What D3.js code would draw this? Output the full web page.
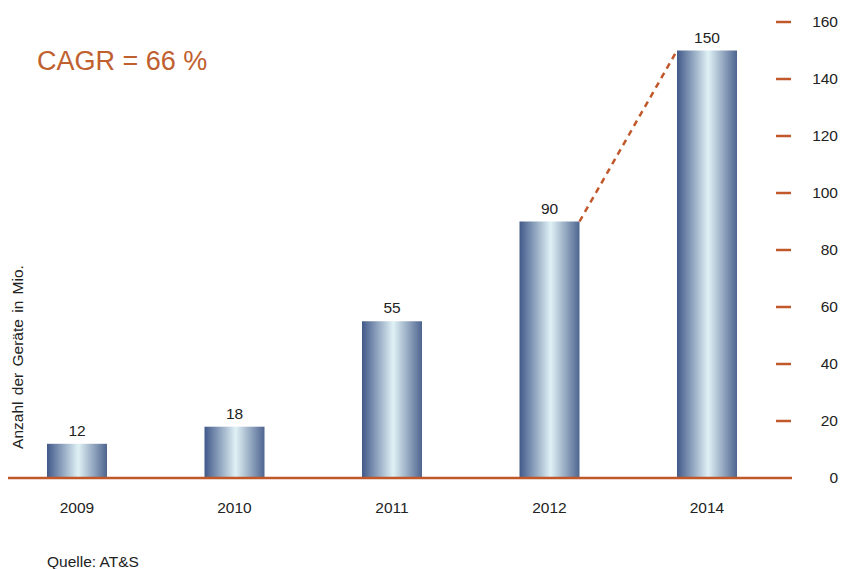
<!DOCTYPE html>
<html><head><meta charset="utf-8">
<script src="https://cdn.jsdelivr.net/npm/d3@7"></script>
<style>body{margin:0;background:#fff;font-family:Arial,"Liberation Sans",sans-serif}</style>
</head><body><svg id="c" width="841" height="569"></svg>
<script>
const categories = ["2009","2010","2011","2012","2014"];
const values = [12, 18, 55, 90, 150];
const yTicks = [0,20,40,60,80,100,120,140,160];
const title = "CAGR = 66 %";
const yLabel = "Anzahl der Geräte in Mio.";
const source = "Quelle: AT&S";
const orange = "#c0582a";
const fs = 15.5;

const svg = d3.select("#c");
const x = d3.scalePoint().domain(categories).range([77, 707]);
const y = d3.scaleLinear().domain([0,160]).range([478, 22]);
const bw = 60;

const defs = svg.append("defs");
const g = defs.append("linearGradient").attr("id","bg").attr("x1","0").attr("x2","1").attr("y1","0").attr("y2","0");
g.append("stop").attr("offset","0%").attr("stop-color","#41598a");
g.append("stop").attr("offset","52%").attr("stop-color","#e0f1f5");
g.append("stop").attr("offset","100%").attr("stop-color","#4e6590");

svg.selectAll("rect.bar").data(values).join("rect").attr("class","bar")
  .attr("x",(d,i)=>x(categories[i])-bw/2).attr("width",bw)
  .attr("y",d=>y(d)).attr("height",d=>y(0)-y(d)).attr("fill","url(#bg)");

svg.selectAll("text.val").data(values).join("text").attr("class","val")
  .attr("x",(d,i)=>x(categories[i])).attr("y",d=>y(d)-8)
  .attr("text-anchor","middle").attr("font-size",fs).attr("fill","#222").text(d=>d);

// baseline
svg.append("line").attr("x1",8).attr("x2",792).attr("y1",y(0)).attr("y2",y(0))
  .attr("stroke",orange).attr("stroke-width",2.5);

// right axis ticks
const axis = d3.axisRight(y).tickValues(yTicks).tickSize(0).tickPadding(0);
const ag = svg.append("g").attr("transform","translate(838,0)").call(axis);
ag.select(".domain").remove();
ag.selectAll("text").attr("text-anchor","end").attr("x",0).attr("font-size",fs).attr("fill","#222").attr("font-family","Arial,'Liberation Sans',sans-serif");
svg.selectAll("line.tk").data(yTicks.filter(t=>t>0)).join("line").attr("class","tk")
  .attr("x1",776).attr("x2",791).attr("y1",d=>y(d)).attr("y2",d=>y(d))
  .attr("stroke",orange).attr("stroke-width",2.5);

// x labels
svg.selectAll("text.cat").data(categories).join("text").attr("class","cat")
  .attr("x",d=>x(d)).attr("y",513).attr("text-anchor","middle").attr("font-size",fs).attr("fill","#222").text(d=>d);

// dashed trend line
svg.append("line")
  .attr("x1",x("2012")+bw/2).attr("y1",y(values[3]))
  .attr("x2",x("2014")-bw/2).attr("y2",y(values[4]))
  .attr("stroke",orange).attr("stroke-width",2.5).attr("stroke-dasharray","6,5");

svg.append("text").attr("x",37).attr("y",70).attr("font-size",27).attr("fill","#c0602f").text(title);

svg.append("text").attr("transform","translate(23,357) rotate(-90)").attr("text-anchor","middle")
  .attr("font-size",fs).attr("word-spacing",2).attr("fill","#222").text(yLabel);

svg.append("text").attr("x",47).attr("y",567).attr("font-size",15.5).attr("fill","#222").text(source);
</script></body></html>
